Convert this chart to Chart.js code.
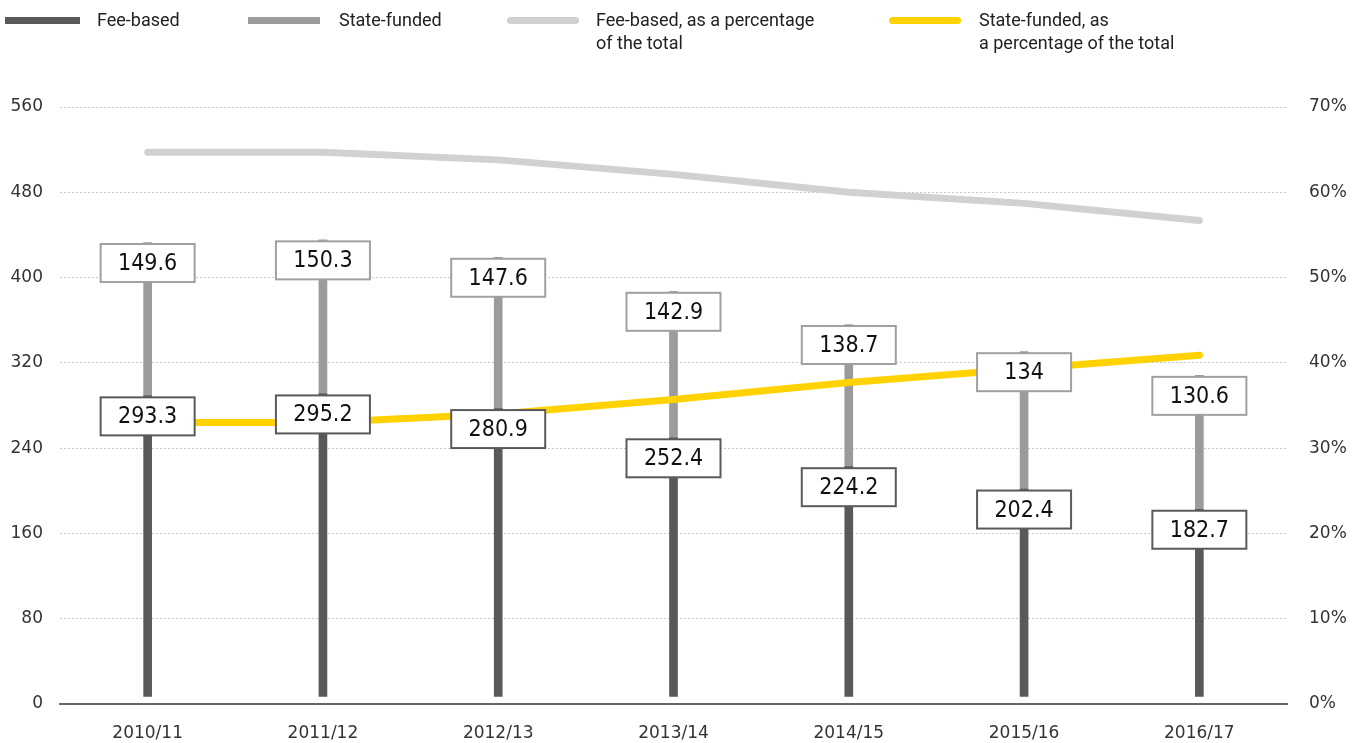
<!DOCTYPE html>
<html>
<head>
<meta charset="utf-8">
<script src="https://cdn.jsdelivr.net/npm/chart.js@4.4.1/dist/chart.umd.min.js"></script>
<style>
  html, body { margin: 0; padding: 0; background: #fff; }
  #wrap { position: relative; width: 1354px; height: 743px; overflow: hidden; }
  #chart { position: absolute; left: 0; top: 0; }
  .sw { position: absolute; height: 7px; }
  .lt { position: absolute; font-family: Roboto, "Liberation Sans", sans-serif; font-size: 18px; line-height: 23px; color: #222; white-space: nowrap; }
</style>
</head>
<body>
<div id="wrap">
  <canvas id="chart" width="1354" height="743"></canvas>
  <div class="sw" style="left:5px;top:17px;width:75px;background:#595959;"></div>
  <div class="lt" style="left:97px;top:8px;">Fee-based</div>
  <div class="sw" style="left:248px;top:17px;width:72px;background:#9b9b9b;"></div>
  <div class="lt" style="left:339px;top:8px;">State-funded</div>
  <div class="sw" style="left:507px;top:17px;width:72px;background:#d0d1d0;border-radius:4px;"></div>
  <div class="lt" style="left:596px;top:8px;">Fee-based, as a percentage<br>of the total</div>
  <div class="sw" style="left:889px;top:17px;width:72px;background:#ffd200;border-radius:4px;"></div>
  <div class="lt" style="left:979px;top:8px;">State-funded, as<br>a percentage of the total</div>
</div>
<script>
// ---- data ----
const categories = ["2010/11", "2011/12", "2012/13", "2013/14", "2014/15", "2015/16", "2016/17"];
const feeBased = [293.3, 295.2, 280.9, 252.4, 224.2, 202.4, 182.7];
const stateFunded = [149.6, 150.3, 147.6, 142.9, 138.7, 134, 130.6];
const feePct = [64.7, 64.7, 63.8, 62.1, 60.0, 58.7, 56.7];
const statePct = [33.0, 33.0, 34.0, 35.7, 37.7, 39.3, 40.9];
const leftTicks = [0, 80, 160, 240, 320, 400, 480, 560];
const rightTicks = [0, 10, 20, 30, 40, 50, 60, 70];

const tickFont = { family: "'DejaVu Sans', Verdana, sans-serif", size: 17 };

const boxPlugin = {
  id: 'valueBoxes',
  afterDatasetsDraw(chart) {
    const ctx = chart.ctx;
    const specs = [
      { ds: 0, values: feeBased, border: '#5a5a5a' },
      { ds: 1, values: stateFunded, border: '#a0a0a0' }
    ];
    ctx.save();
    specs.forEach(s => {
      const meta = chart.getDatasetMeta(s.ds);
      meta.data.forEach((el, i) => {
        const w = 94, h = 38;
        const x = el.x - w / 2;
        const y = el.y + 1.5;
        ctx.fillStyle = '#ffffff';
        ctx.fillRect(x, y, w, h);
        ctx.lineWidth = 2;
        ctx.strokeStyle = s.border;
        ctx.strokeRect(x, y, w, h);
        ctx.fillStyle = '#111';
        ctx.font = "23px 'DejaVu Sans Condensed', 'DejaVu Sans', sans-serif";
        ctx.textAlign = 'center';
        ctx.textBaseline = 'middle';
        ctx.fillText(String(s.values[i]), el.x, y + h / 2 + 1);
      });
    });
    ctx.restore();
  }
};

new Chart(document.getElementById('chart'), {
  type: 'bar',
  data: {
    labels: categories,
    datasets: [
      { label: 'Fee-based', data: feeBased, backgroundColor: '#595959', yAxisID: 'yb', barThickness: 8, order: 2 },
      { label: 'State-funded', data: stateFunded, backgroundColor: '#9b9b9b', yAxisID: 'yb', barThickness: 8, order: 3 },
      { type: 'line', label: 'Fee-based, as a percentage of the total', data: feePct, yAxisID: 'yr',
        borderColor: '#d0d1d0', borderWidth: 7, pointRadius: 0, borderCapStyle: 'round', borderJoinStyle: 'round', tension: 0, order: 0 },
      { type: 'line', label: 'State-funded, as a percentage of the total', data: statePct, yAxisID: 'yr',
        borderColor: '#ffd200', borderWidth: 7, pointRadius: 0, borderCapStyle: 'round', borderJoinStyle: 'round', tension: 0, order: 1 }
    ]
  },
  options: {
    responsive: false,
    animation: false,
    devicePixelRatio: 1,
    layout: { padding: { top: 107, left: 0, right: 0, bottom: 0 } },
    plugins: { legend: { display: false }, tooltip: { enabled: false } },
    scales: {
      x: {
        stacked: true,
        offset: true,
        grid: { display: false, drawTicks: false },
        border: { display: true, color: '#666', width: 2 },
        ticks: { font: tickFont, color: '#333', padding: 19, maxRotation: 0, autoSkip: false },
        afterFit(s) { s.height = 39; }
      },
      y: {
        position: 'left',
        min: 0, max: 560,
        afterBuildTicks(s) { s.ticks = leftTicks.map(v => ({ value: v })); },
        grid: { color: '#c8c8c8', lineWidth: 1, drawTicks: false },
        border: { display: false, dash: [2, 2] },
        ticks: { font: tickFont, color: '#333', padding: 17 },
        afterFit(s) { s.width = 60; }
      },
      yr: {
        position: 'right',
        min: 0, max: 70,
        afterBuildTicks(s) { s.ticks = rightTicks.map(v => ({ value: v })); },
        grid: { display: false, drawTicks: false },
        border: { display: false },
        ticks: { font: tickFont, color: '#333', padding: 22, callback: v => v + '%' },
        afterFit(s) { s.width = 67; }
      },
      yb: {
        display: false,
        stacked: true,
        min: -7.3, max: 575.1
      }
    }
  },
  plugins: [boxPlugin]
});
</script>
</body>
</html>
